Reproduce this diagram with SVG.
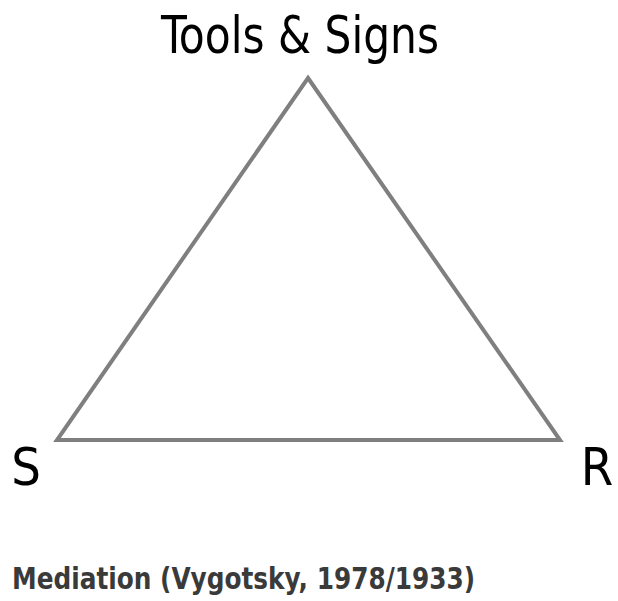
<svg xmlns="http://www.w3.org/2000/svg" width="618" height="601" viewBox="0 0 618 601">
<style>
text{font-family:"DejaVu Sans Condensed","DejaVu Sans","Liberation Sans",sans-serif;fill:#000}
.lbl{font-size:52px}
.cap{font-size:31px;font-weight:bold;fill:#3a3a3a}
.edge{stroke:#7f7f7f;stroke-width:4;fill:none;stroke-linejoin:miter}
</style>
<rect width="618" height="601" fill="#fff"/>
<g id="connectors">
<polygon class="edge" points="308,78 560,440 57,440"/>
</g>
<g id="node-tools"><text class="lbl" x="300" y="53" text-anchor="middle" textLength="278" lengthAdjust="spacingAndGlyphs">Tools &amp; Signs</text></g>
<g id="node-s"><text class="lbl" x="26" y="485" text-anchor="middle">S</text></g>
<g id="node-r"><text class="lbl" x="597" y="485" text-anchor="middle">R</text></g>
<g id="caption"><text class="cap" x="12" y="589" textLength="463" lengthAdjust="spacingAndGlyphs">Mediation (Vygotsky, 1978/1933)</text></g>
</svg>
